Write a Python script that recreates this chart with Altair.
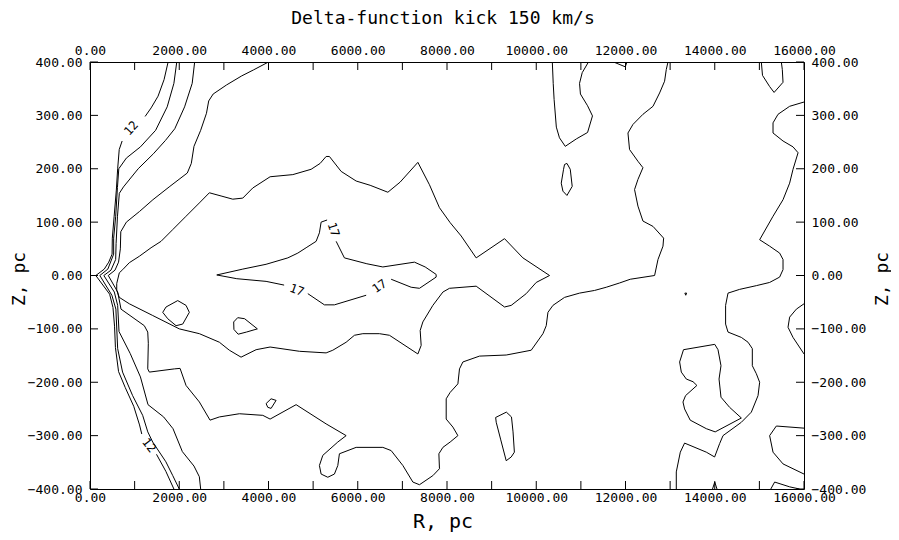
import altair as alt
import pandas as pd

FONT = "DejaVu Sans Mono"
W, H = 714, 427

# ---- axis values ----
x_ticks = list(range(0, 16001, 1000))
x_label_vals = list(range(0, 16001, 2000))
y_ticks = list(range(-400, 401, 100))

# ---- contour polylines (R [pc], Z [pc]) ----
c12_a = [(1750,400),(1660,367),(1525,336),(1370,314),(1235,298)]
c12_b = [(720,252),(655,236),(620,200),(590,160),(540,110),(500,70),(495,40),(420,25),(320,12),(130,0),
         (440,-35),(515,-60),(550,-95),(570,-135),(640,-180),(790,-210),(980,-245),(1110,-280),(1160,-297)]
c12_c = [(1490,-335),(1700,-367),(1880,-400)]
c13 = [(1944,400),(1880,360),(1730,316),(1470,272),(1130,241),(815,220),(645,200),(615,165),(575,110),
       (530,70),(530,40),(400,12),(220,0),(490,-37),(580,-63),(620,-137),(730,-181),(955,-225),(1180,-262),
       (1295,-293),(1405,-312),(1700,-349),(1855,-375),(2000,-400)]
c14 = [(2345,400),(2290,360),(2120,316),(1900,275),(1690,253),(1420,228),(1080,200),(750,166),(657,154),
       (615,110),(585,60),(575,30),(470,10),(310,0),(545,-31),(620,-56),(650,-105),(900,-146),(1130,-190),
       (1300,-242),(1650,-265),(1860,-287),(2070,-330),(2330,-357),(2450,-377),(2480,-400)]
c15 = [(4000,400),(3660,385),(3400,374),(3060,357),(2760,340),(2660,327),(2610,304),(2480,272),(2330,242),
       (2270,210),(2180,192),(1790,167),(1410,142),(1110,120),(815,100),(690,82),(680,50),(640,25),(560,10),
       (410,0),(621,-31),(695,-63),(1217,-94),(1294,-106),(1307,-127),(1294,-175),(1330,-181),(1890,-175),
       (2018,-174),(2152,-206),(2451,-237),(2690,-271),(2899,-265),(3347,-259),(3872,-262),(4036,-269),
       (4619,-242),(5291,-278),(5740,-300),(5553,-312),(5217,-337),(5141,-356),(5179,-372),(5329,-378),
       (5477,-372),(5553,-356),(5589,-334),(5964,-322),(6562,-322),(6748,-328),(7011,-356),(7235,-387),
       (7383,-392),(7683,-375),(7831,-362),(7818,-334),(7908,-322),(8071,-312),(8244,-300),(8132,-284),
       (7982,-269),(7982,-231),(8071,-219),(8244,-203),(8280,-175),(8356,-162),(8728,-151),(9327,-149),
       (9887,-140),(10150,-109),(10224,-94),(10262,-69),(10374,-56),(10634,-41),(10970,-33),(11307,-28),
       (11569,-22),(11867,-14),(12107,-7),(12652,0),(12728,30),(12840,55),(12854,70),(12616,92),(12391,102),
       (12279,130),(12203,161),(12279,180),(12391,202),(12279,214),(12091,236),(12055,267),(12167,283),
       (12391,302),(12616,317),(12764,342),(12876,364),(12914,386),(12952,400)]
c16 = [(657,5),(733,11),(881,24),(1105,36),(1368,52),(1592,64),(1854,86),(2152,111),(2451,136),(2675,155),
       (2937,149),(3199,143),(3424,145),(3648,164),(4036,185),(4545,189),(4955,199),(5157,210),(5291,223),
       (5365,223),(5628,195),(5964,177),(6278,169),(6675,156),(6950,175),(7347,212),(7607,170),(7831,127),
       (8071,99),(8318,74),(8654,33),(9289,69),(9701,33),(10298,0),(9999,-13),(9775,-34),(9439,-56),
       (9289,-59),(8654,-20),(8055,-24),(7908,-31),(7683,-56),(7459,-87),(7399,-103),(7421,-131),(7347,-147),
       (6710,-112),(6486,-109),(6114,-109),(5926,-112),(5740,-125),(5441,-140),(5291,-145),(4693,-142),
       (4036,-134),(3722,-139),(3385,-153),(3123,-140),(2899,-125),(2451,-109),(2002,-100),(1406,-75),
       (881,-53),(657,-41),(599,-28),(599,-15),(657,5)]
c17_a = [(5313,104),(5179,100),(5141,80),(5067,64),(4843,52),(4657,42),(4433,33),(3946,21),(3424,12),
         (2841,1),(3289,-6),(3946,-11),(4350,-18)]
c17_b = [(4881,-34),(5253,-55),(5477,-55),(6189,-37)]
c17_c = [(6748,-7),(7197,-22),(7383,-24),(7757,-3),(7757,2),(7511,16),(7271,25),(6562,16),(6204,22),
         (5701,33),(5516,64)]
top_loop = [(10360,400),(10380,360),(10400,330),(10450,278),(10520,258),(10650,242),(10900,256),
            (11150,268),(11260,299),(11150,318),(10990,340),(10970,360),(11030,380),(11170,400)]
top_v = [(11733,400),(11995,391),(12033,400)]
loop_1 = [(1630,-69),(1704,-59),(1966,-47),(2152,-56),(2226,-69),(2078,-91),(1928,-94),(1742,-81)]
loop_2 = [(3220,-87),(3310,-79),(3465,-81),(3750,-100),(3505,-106),(3320,-110),(3225,-101)]
loop_3 = [(3946,-240),(4058,-231),(4170,-234),(4058,-249),(3984,-247)]
loop_4 = [(10634,208),(10688,210),(10762,199),(10806,167),(10688,150),(10598,158),(10560,173),(10612,199)]
loop_5 = [(9090,-266),(9330,-256),(9445,-265),(9480,-293),(9510,-331),(9439,-340),(9327,-347),
          (9205,-308),(9103,-275)]
bean = [(13300,-139),(14000,-129),(14073,-139),(14140,-169),(14096,-194),(14140,-228),(14333,-247),
        (14596,-267),(14010,-293),(13811,-287),(13450,-271),(13324,-250),(13288,-237),(13346,-225),
        (13600,-206),(13513,-199),(13363,-194),(13251,-181),(13213,-162)]
dot = [(13330,-33),(13370,-33),(13350,-37)]
right_top = [(15044,400),(15070,375),(15230,354),(15330,343),(15530,362),(15514,386),(15492,400)]
right_long = [(16000,325),(15678,317),(15418,302),(15306,286),(15306,267),(15530,252),(15754,241),
              (15867,230),(15754,199),(15678,173),(15530,142),(15306,111),(15006,67),(15230,55),(15454,42),
              (15530,30),(15530,11),(15454,-3),(15230,-13),(14932,-19),(14557,-26),(14297,-33),(14243,-56),
              (14243,-91),(14297,-106),(14596,-116),(14746,-125),(14842,-137),(14842,-169),(14932,-184),
              (15006,-200),(14970,-225),(14820,-256),(14596,-275),(14185,-300),(14109,-315),(13997,-340),
              (13811,-331),(13324,-314),(13228,-331),(13138,-368),(13138,-400)]
right_bulge = [(16000,-53),(15829,-63),(15678,-78),(15642,-97),(15754,-116),(16000,-147)]
right_bottom = [(16000,-286),(15380,-282),(15230,-300),(15306,-331),(15530,-353),(16000,-372)]
corner_arc = [(15256,-400),(15342,-387),(15680,-396),(15900,-400)]
caret = [(13950,-400),(14000,-387),(14050,-400)]

open_lines = {"c12a": c12_a, "c12b": c12_b, "c12c": c12_c, "c13": c13, "c14": c14, "c15": c15,
              "c17a": c17_a, "c17b": c17_b, "c17c": c17_c, "top_loop": top_loop, "top_v": top_v,
              "right_top": right_top, "right_long": right_long, "right_bulge": right_bulge,
              "right_bottom": right_bottom, "corner_arc": corner_arc, "caret": caret}
closed_lines = {"c16": c16, "loop1": loop_1, "loop2": loop_2, "loop3": loop_3, "loop4": loop_4,
                "loop5": loop_5, "bean": bean, "dot": dot}

# contour labels
lab_R = [919, 1323, 5459, 4637, 6486]
lab_Z = [276, -318, 86, -27, -20]
lab_text = ["12", "12", "17", "17", "17"]
lab_angle = [312, 52, 72, 20, 325]

title_text = "Delta-function kick 150 km/s"
x_title = "R, pc"
y_title = "Z, pc"

rows = []
for name, pts in open_lines.items():
    for i, (r, z) in enumerate(pts):
        rows.append({"R": r, "Z": z, "seg": name, "i": i})
for name, pts in closed_lines.items():
    for i, (r, z) in enumerate(list(pts) + [pts[0]]):
        rows.append({"R": r, "Z": z, "seg": name, "i": i})
df = pd.DataFrame(rows)

xscale = alt.Scale(domain=[0, 16000], nice=False, zero=False)
yscale = alt.Scale(domain=[-400, 400], nice=False, zero=False)

axis_common = dict(labelFont=FONT, labelFontSize=13, labelColor="black", ticks=False,
                   grid=False, domain=True, domainColor="black", domainWidth=1,
                   title=None, format=".2f", labelOverlap=False, labelFlush=False,
                   labelBound=False)

lines = alt.Chart(df).mark_line(color="black", strokeWidth=1, clip=True).encode(
    x=alt.X("R:Q", scale=xscale,
            axis=alt.Axis(orient="bottom", values=x_label_vals, labelPadding=2, **axis_common)),
    y=alt.Y("Z:Q", scale=yscale,
            axis=alt.Axis(orient="left", values=y_ticks, labelPadding=8, **axis_common)),
    detail="seg:N",
    order=alt.Order("i:Q"),
)

xt = pd.DataFrame({"R": x_ticks})
yt = pd.DataFrame({"Z": y_ticks})

ticks_top = alt.Chart(xt).mark_rule(color="black", strokeWidth=1).encode(
    x=alt.X("R:Q", scale=xscale,
            axis=alt.Axis(orient="top", values=x_label_vals, labelPadding=5, **axis_common)),
    y=alt.value(0), y2=alt.value(8))
ticks_bottom = alt.Chart(xt).mark_rule(color="black", strokeWidth=1).encode(
    x=alt.X("R:Q", scale=xscale, axis=None), y=alt.value(H), y2=alt.value(H - 8))
ticks_left = alt.Chart(yt).mark_rule(color="black", strokeWidth=1).encode(
    y=alt.Y("Z:Q", scale=yscale, axis=None), x=alt.value(0), x2=alt.value(8))
ticks_right = alt.Chart(yt).mark_rule(color="black", strokeWidth=1).encode(
    y=alt.Y("Z:Q", scale=yscale,
            axis=alt.Axis(orient="right", values=y_ticks, labelPadding=7, **axis_common)),
    x=alt.value(W), x2=alt.value(W - 8))

labdf = pd.DataFrame({"R": lab_R, "Z": lab_Z, "t": lab_text, "a": lab_angle})
labels = alt.Chart(labdf).mark_text(font=FONT, fontSize=12, color="black",
                                    align="center", baseline="middle").encode(
    x=alt.X("R:Q", scale=xscale, axis=None),
    y=alt.Y("Z:Q", scale=yscale, axis=None),
    text="t:N",
    angle=alt.Angle("a:Q", scale=None),
)

title = alt.Chart(pd.DataFrame({"t": [title_text]})).mark_text(
    font=FONT, fontSize=18, color="black", align="center", baseline="alphabetic").encode(
    text="t:N", x=alt.value(353), y=alt.value(-38))
xlab = alt.Chart(pd.DataFrame({"t": [x_title]})).mark_text(
    font=FONT, fontSize=20, color="black", align="center", baseline="alphabetic").encode(
    text="t:N", x=alt.value(353), y=alt.value(466))
ylab_l = alt.Chart(pd.DataFrame({"t": [y_title]})).mark_text(
    font=FONT, fontSize=18, color="black", align="center", baseline="middle", angle=270).encode(
    text="t:N", x=alt.value(-70), y=alt.value(217))
ylab_r = alt.Chart(pd.DataFrame({"t": [y_title]})).mark_text(
    font=FONT, fontSize=18, color="black", align="center", baseline="middle", angle=270).encode(
    text="t:N", x=alt.value(793), y=alt.value(217))

chart = alt.layer(
    lines, ticks_top, ticks_bottom, ticks_left, ticks_right, labels, title, xlab, ylab_l, ylab_r
).resolve_axis(x="independent", y="independent").properties(
    width=W, height=H,
    autosize=alt.AutoSizeParams(type="none"),
    padding={"left": 82, "top": 54, "right": 87, "bottom": 44},
).configure_view(strokeWidth=0).configure(background="white")

chart.save("out.html", embed_options={"renderer": "svg", "actions": False})
